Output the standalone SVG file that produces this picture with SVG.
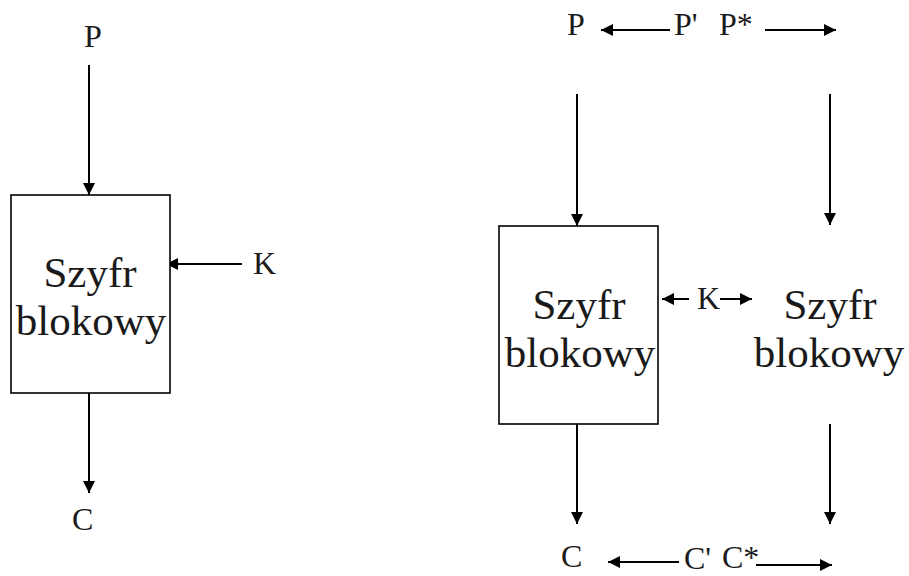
<svg xmlns="http://www.w3.org/2000/svg" width="909" height="576" viewBox="0 0 909 576" font-family="'Liberation Serif', 'Times New Roman', Times, serif">
<style>
text{font-family:'Liberation Serif','Times New Roman',Times,serif;fill:#1a1a1a}
.lbl{font-size:32px}
.big{font-size:43px;text-anchor:middle}
.box{fill:#fff;stroke:#000;stroke-width:1.6}
.ar{stroke:#000;stroke-width:2;fill:none;marker-end:url(#ah)}
</style>
<defs>
<marker id="ah" markerUnits="userSpaceOnUse" markerWidth="13" markerHeight="12" refX="12" refY="6" orient="auto">
<path d="M0,0 L12,6 L0,12 z" fill="#000"/>
</marker>
</defs>
<rect width="909" height="576" fill="#fff"/>
<g id="connectors">
<line class="ar" x1="89" y1="65" x2="89" y2="195"/>
<line class="ar" x1="89" y1="393" x2="89" y2="493"/>
<line class="ar" x1="242" y1="264" x2="166" y2="264"/>
<line class="ar" x1="577" y1="94" x2="577" y2="226"/>
<line class="ar" x1="830" y1="94" x2="830" y2="225"/>
<line class="ar" x1="577" y1="424" x2="577" y2="524"/>
<line class="ar" x1="830" y1="424" x2="830" y2="524"/>
<line class="ar" x1="670" y1="30" x2="601" y2="30"/>
<line class="ar" x1="765" y1="30" x2="836" y2="30"/>
<line class="ar" x1="689" y1="299" x2="662" y2="299"/>
<line class="ar" x1="720" y1="299" x2="752" y2="299"/>
<line class="ar" x1="679" y1="562" x2="608" y2="562"/>
<line class="ar" x1="756" y1="565" x2="832" y2="565"/>
</g>
<g id="block1">
<rect class="box" x="11" y="195" width="159" height="198"/>
<text class="big" x="90" y="287">Szyfr</text>
<text class="big" x="91" y="335">blokowy</text>
</g>
<g id="block2">
<rect class="box" x="499" y="226" width="159" height="198"/>
<text class="big" x="579" y="319">Szyfr</text>
<text class="big" x="580" y="367">blokowy</text>
</g>
<g id="block3">
<text class="big" x="830" y="319">Szyfr</text>
<text class="big" x="829" y="367">blokowy</text>
</g>
<g id="labels">
<text class="lbl" x="84" y="47">P</text>
<text class="lbl" x="72" y="530">C</text>
<text class="lbl" x="253" y="274">K</text>
<text class="lbl" x="567" y="35">P</text>
<text class="lbl" x="674" y="35">P'</text>
<text class="lbl" x="719" y="35">P*</text>
<text class="lbl" x="697" y="309">K</text>
<text class="lbl" x="561" y="567">C</text>
<text class="lbl" x="684" y="569">C'</text>
<text class="lbl" x="722" y="568">C*</text>
</g>
</svg>
